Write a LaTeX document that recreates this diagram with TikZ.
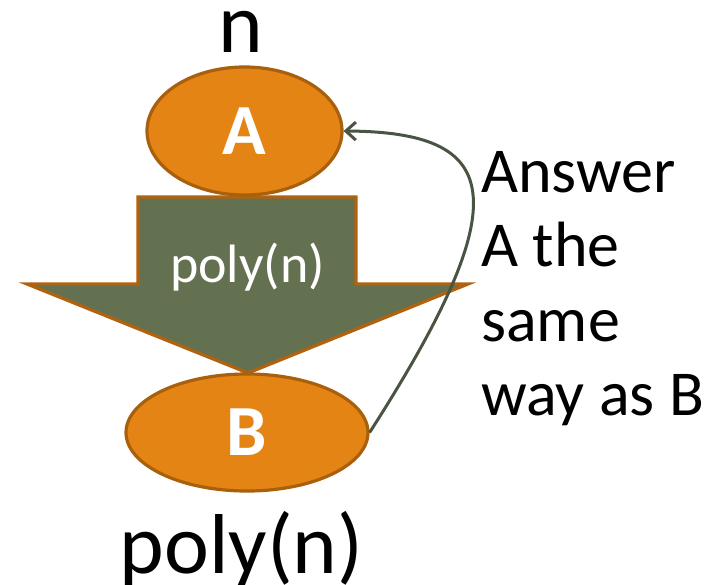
\documentclass[tikz,border=0pt]{standalone}
\usepackage{fontspec}
\setmainfont{Carlito}
\usetikzlibrary{shapes.geometric,arrows.meta}
\definecolor{ellfill}{HTML}{E48414}
\definecolor{ellline}{HTML}{A8600C}
\definecolor{arrfill}{HTML}{637150}
\definecolor{arrline}{HTML}{B0620E}
\definecolor{curvecol}{HTML}{4A5443}
\tikzset{
  ell/.style={ellipse, draw=ellline, fill=ellfill, line width=3.2pt, inner sep=0pt,
    font=\fontsize{72}{80}\selectfont\bfseries, text=white},
  bigtext/.style={font=\fontsize{85}{95}\selectfont, inner sep=0pt, anchor=base},
  sidetext/.style={font=\fontsize{64}{74.5}\selectfont, inner sep=0pt, align=left},
  blockarrow/.style={draw=arrline, fill=arrfill, line width=3.2pt, line join=miter},
  backarrow/.style={draw=curvecol, line width=3pt, -{Straight Barb[length=10pt,width=18pt,line width=3pt]}}
}
\begin{document}
\begin{tikzpicture}[x=1pt,y=-1pt]
\useasboundingbox (0,0) rectangle (715,584);
% block arrow
\draw[blockarrow] (138,197) -- (356,197) -- (356,284) -- (468,284) -- (248,373) -- (27,284) -- (138,284) -- cycle;
\node[font=\fontsize{54}{60}\selectfont, text=white, inner sep=0pt, anchor=base] (mid) at (247.5,282) {poly(n)};
% ellipses
\node[ell, minimum width=195pt, minimum height=128pt] (A) at (244.5,131) {A};
\node[ell, minimum width=242pt, minimum height=117pt] (B) at (247,432.5) {B};
% labels
\node[bigtext] (n) at (241,52) {n};
\node[bigtext] (p) at (241.5,573) {poly(n)};
\node[sidetext, anchor=north west] (ans) at (481,151) {Answer\\A the\\same\\way as B};
% back arrow
\draw[backarrow] (B.east) .. controls (522,195) and (500,132) .. (A.east);
\end{tikzpicture}
\end{document}
